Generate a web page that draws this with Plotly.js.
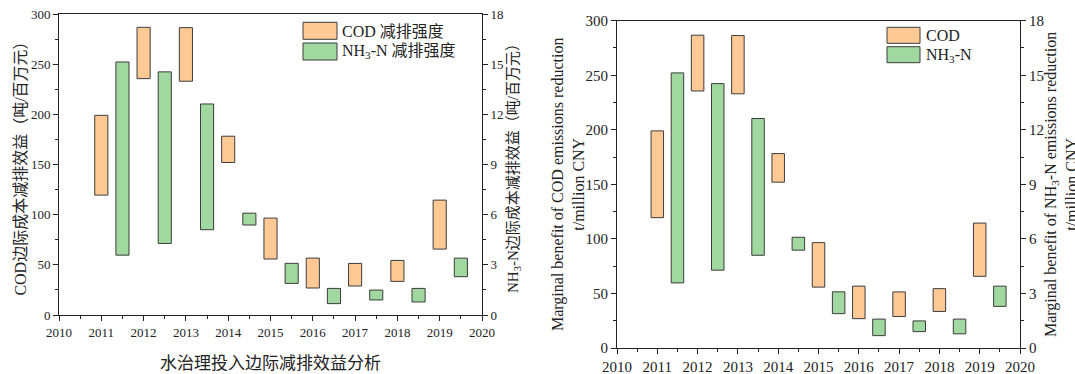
<!DOCTYPE html>
<html>
<head>
<meta charset="utf-8">
<script src="https://cdn.plot.ly/plotly-3.0.1.min.js"></script>
<style>html,body{margin:0;padding:0;background:#fff;}#chart{width:1075px;height:374px;}</style>
</head>
<body>
<div id="chart"></div>
<script>
// ---- data ----
const codYears = [2011, 2012, 2013, 2014, 2015, 2016, 2017, 2018, 2019];
const nhYears = [2011.5, 2012.5, 2013.5, 2014.5, 2015.5, 2016.5, 2017.5, 2018.5, 2019.5];
const codLow  = [119.5, 235.6, 233.0, 152.0, 55.8, 26.9, 28.9, 33.5, 65.7];
const codHigh = [199.0, 286.7, 286.4, 178.2, 96.6, 56.7, 51.4, 54.4, 114.5];
const nhLow   = [3.58, 4.28, 5.10, 5.38, 1.89, 0.68, 0.90, 0.78, 2.29];
const nhHigh  = [15.13, 14.54, 12.62, 6.09, 3.09, 1.59, 1.49, 1.59, 3.40];
const xTicks = [2010, 2011, 2012, 2013, 2014, 2015, 2016, 2017, 2018, 2019, 2020];
const leftTicks = [0, 50, 100, 150, 200, 250, 300];
const rightTicks = [0, 3, 6, 9, 12, 15, 18];

const codColor = '#FFC995';
const nhColor = '#A0D8A0';
const edge = '#3c3c3c';
const FONT = 'Liberation Serif, Noto Sans CJK SC, serif';

function diff(hi, lo) { return hi.map((v, i) => v - lo[i]); }

function barTrace(x, lo, hi, color, xa, ya, name) {
  return {
    type: 'bar', x: x, base: lo, y: diff(hi, lo), width: 0.31,
    xaxis: xa, yaxis: ya, name: name, showlegend: false, hoverinfo: 'skip',
    marker: { color: color, line: { color: edge, width: 1 } }
  };
}

const data = [
  barTrace(codYears, codLow, codHigh, codColor, 'x', 'y', 'COD 减排强度'),
  barTrace(nhYears, nhLow, nhHigh, nhColor, 'x', 'y2', 'NH3-N 减排强度'),
  barTrace(codYears, codLow, codHigh, codColor, 'x2', 'y3', 'COD'),
  barTrace(nhYears, nhLow, nhHigh, nhColor, 'x2', 'y4', 'NH3-N')
];

// layout geometry
const W = 1075, H = 374, ML = 59, MR = 55, MT = 14, MB = 26;
const PW = W - ML - MR, PH = H - MT - MB;
function px(x) { return (x - ML) / PW; }
function py(y) { return (H - MB - y) / PH; }

function xAxis(domain, anchor, size, title) {
  const a = {
    domain: domain, anchor: anchor, range: [2010, 2020],
    tickmode: 'array', tickvals: xTicks, ticktext: xTicks.map(String),
    ticks: 'outside', ticklen: 5, tickwidth: 1, tickcolor: '#222',
    minor: { dtick: 0.5, tick0: 2010, ticks: 'outside', ticklen: 3, tickwidth: 1, tickcolor: '#222' },
    showline: true, linecolor: '#222', linewidth: 1, mirror: true,
    showgrid: false, zeroline: false, fixedrange: true,
    tickfont: { family: FONT, size: size, color: '#222' }
  };
  if (title) a.title = title;
  return a;
}
function yAxis(domain, anchor, range, ticks, minorStep, size, title, side, overlay) {
  const a = {
    domain: domain, anchor: anchor, range: range,
    tickmode: 'array', tickvals: ticks, ticktext: ticks.map(String),
    ticks: 'outside', ticklen: 5, tickwidth: 1, tickcolor: '#222',
    minor: { dtick: minorStep, tick0: 0, ticks: 'outside', ticklen: 3, tickwidth: 1, tickcolor: '#222' },
    showline: true, linecolor: '#222', linewidth: 1,
    showgrid: false, zeroline: false, fixedrange: true,
    tickfont: { family: FONT, size: size, color: '#222' },
    side: side
  };
  if (title) a.title = title;
  if (overlay) a.overlaying = overlay;
  return a;
}

const leftYDom = [py(315), 1];
const rightYDom = [0, py(20.7)];
const leftXDom = [0, px(482)];
const rightXDom = [px(617), 1];

const txt = (size) => ({ family: FONT, size: size, color: '#222' });

const layout = {
  width: W, height: H,
  margin: { l: ML, r: MR, t: MT, b: MB },
  paper_bgcolor: '#fff', plot_bgcolor: 'rgba(0,0,0,0)',
  barmode: 'overlay', showlegend: false,
  font: { family: FONT, color: '#222' },
  xaxis: xAxis(leftXDom, 'y', 13, {
    text: '水治理投入边际减排效益分析', font: txt(17), standoff: 18
  }),
  yaxis: yAxis(leftYDom, 'x', [0, 300], leftTicks, 25, 13,
    { text: 'COD边际成本减排效益（吨/百万元）', font: txt(16), standoff: 0 }, 'left'),
  yaxis2: yAxis(leftYDom, 'x', [0, 18], rightTicks, 1.5, 13,
    { text: 'NH<sub>3</sub>-N边际成本减排效益（吨/百万元）', font: txt(15), standoff: 4 }, 'right', 'y'),
  xaxis2: xAxis(rightXDom, 'y3', 15, null),
  yaxis3: yAxis(rightYDom, 'x2', [0, 300], leftTicks, 25, 15, null, 'left'),
  yaxis4: yAxis(rightYDom, 'x2', [0, 18], rightTicks, 1.5, 15, null, 'right', 'y3'),
  shapes: [
    { type: 'rect', xref: 'paper', yref: 'paper', x0: px(303), x1: px(337), y0: py(39.3), y1: py(22.3), fillcolor: codColor, line: { color: edge, width: 1 } },
    { type: 'rect', xref: 'paper', yref: 'paper', x0: px(303), x1: px(337), y0: py(60), y1: py(43), fillcolor: nhColor, line: { color: edge, width: 1 } },
    { type: 'rect', xref: 'paper', yref: 'paper', x0: px(887), x1: px(920), y0: py(43.3), y1: py(27.3), fillcolor: codColor, line: { color: edge, width: 1 } },
    { type: 'rect', xref: 'paper', yref: 'paper', x0: px(887), x1: px(920), y0: py(62.7), y1: py(46.7), fillcolor: nhColor, line: { color: edge, width: 1 } }
  ],
  annotations: [
    { xref: 'paper', yref: 'paper', x: px(340), y: py(31), xanchor: 'left', yanchor: 'middle', showarrow: false, text: 'COD 减排强度', font: txt(16) },
    { xref: 'paper', yref: 'paper', x: px(340), y: py(51.5), xanchor: 'left', yanchor: 'middle', showarrow: false, text: 'NH<sub>3</sub>-N 减排强度', font: txt(16) },
    { xref: 'paper', yref: 'paper', x: px(924), y: py(35.3), xanchor: 'left', yanchor: 'middle', showarrow: false, text: 'COD', font: txt(16) },
    { xref: 'paper', yref: 'paper', x: px(924), y: py(55), xanchor: 'left', yanchor: 'middle', showarrow: false, text: 'NH<sub>3</sub>-N', font: txt(16) },
    { xref: 'paper', yref: 'paper', x: px(568), y: py(185), xanchor: 'center', yanchor: 'middle', showarrow: false, textangle: -90,
      text: 'Marginal benefit of COD emissions reduction<br>t/million CNY', font: txt(16) },
    { xref: 'paper', yref: 'paper', x: px(1061), y: py(185), xanchor: 'center', yanchor: 'middle', showarrow: false, textangle: -90,
      text: 'Marginal benefit of NH<sub>3</sub>-N emissions reduction<br>t/million CNY', font: txt(16) }
  ]
};

Plotly.newPlot('chart', data, layout, { staticPlot: true, displayModeBar: false });
</script>
</body>
</html>
